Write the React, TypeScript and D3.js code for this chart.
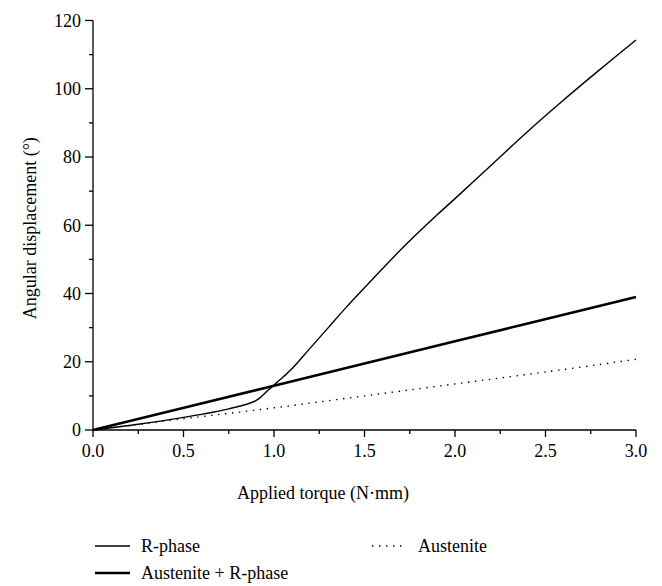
import React from "react";
import * as d3 from "d3";

// torque (N·mm) and angular displacement (deg)
const rPhaseX = [0, 0.25, 0.5, 0.75, 0.9, 0.97, 1.05, 1.1, 1.2, 1.3, 1.4, 1.5, 1.6, 1.7, 1.8, 1.9, 2.0, 2.2, 2.4, 2.6, 2.8, 3.0];
const rPhaseY = [0, 1.7, 3.7, 6.2, 8.6, 11.8, 15.5, 18.0, 24.0, 30.0, 36.0, 41.7, 47.3, 52.8, 58.0, 63.0, 67.8, 77.6, 87.4, 96.7, 105.6, 114.3];

const mixX = [0, 1.0, 2.0, 3.0];
const mixY = [0, 13.0, 26.0, 39.0];

const austX = [0, 0.5, 1.0, 1.5, 2.0, 2.5, 3.0];
const austY = [0, 3.3, 6.5, 10.0, 13.5, 17.0, 20.7];

const xTicks = [0, 0.5, 1.0, 1.5, 2.0, 2.5, 3.0];
const xMinor = [0.25, 0.75, 1.25, 1.75, 2.25, 2.75];
const yTicks = [0, 20, 40, 60, 80, 100, 120];
const yMinor = [10, 30, 50, 70, 90, 110];

const W = 662, H = 586;
const txt = { fontFamily: "Liberation Serif, DejaVu Serif, Times New Roman, serif", fontSize: "18px" };

export default function App() {
  const x = d3.scaleLinear().domain([0, 3]).range([93, 636]);
  const y = d3.scaleLinear().domain([0, 120]).range([430, 20.5]);

  const line = d3.line<[number, number]>()
    .x(d => x(d[0]))
    .y(d => y(d[1]))
    .curve(d3.curveCatmullRom.alpha(0.5));

  const series = [
    { name: "R-phase", xs: rPhaseX, ys: rPhaseY, width: 1.4, dash: null },
    { name: "Austenite + R-phase", xs: mixX, ys: mixY, width: 2.6, dash: null },
    { name: "Austenite", xs: austX, ys: austY, width: 1.4, dash: "1.4 5.6" },
  ];

  const legend = [
    { s: series[0], lx: 95, ly: 546 },
    { s: series[1], lx: 95, ly: 573 },
    { s: series[2], lx: 372, ly: 546 },
  ];

  return (
    <svg width={W} height={H} style={{ position: "absolute", left: 0, top: 0, background: "#fff" }}>
      {/* axes */}
      <line x1={x(0)} x2={x(3)} y1={y(0)} y2={y(0)} stroke="#000" strokeWidth={1.3} />
      <line x1={x(0)} x2={x(0)} y1={y(0)} y2={y(120)} stroke="#000" strokeWidth={1.3} />
      {xTicks.map(t => (
        <g key={"xt" + t}>
          <line x1={x(t)} x2={x(t)} y1={y(0)} y2={y(0) + 7} stroke="#000" strokeWidth={1.3} />
          <text x={x(t)} y={y(0) + 27} textAnchor="middle" style={txt}>
            {t.toFixed(1)}
          </text>
        </g>
      ))}
      {xMinor.map(t => (
        <line key={"xm" + t} x1={x(t)} x2={x(t)} y1={y(0)} y2={y(0) + 4} stroke="#000" strokeWidth={1.3} />
      ))}
      {yTicks.map(t => (
        <g key={"yt" + t}>
          <line x1={x(0) - 8} x2={x(0)} y1={y(t)} y2={y(t)} stroke="#000" strokeWidth={1.3} />
          <text x={x(0) - 12} y={y(t)} dy="0.35em" textAnchor="end" style={txt}>
            {t}
          </text>
        </g>
      ))}
      {yMinor.map(t => (
        <line key={"ym" + t} x1={x(0) - 4} x2={x(0)} y1={y(t)} y2={y(t)} stroke="#000" strokeWidth={1.3} />
      ))}

      {/* axis titles */}
      <text x={323} y={499} textAnchor="middle" style={txt}>
        Applied torque (N·mm)
      </text>
      <text transform={`translate(36,${(y(0) + y(120)) / 2 + 3}) rotate(-90)`} textAnchor="middle" style={txt}>
        Angular displacement (°)
      </text>

      {/* curves */}
      {series.map(s => (
        <path key={s.name}
          d={line(s.xs.map((v, i) => [v, s.ys[i]] as [number, number])) || ""}
          fill="none" stroke="#000" strokeWidth={s.width}
          strokeDasharray={s.dash || undefined} />
      ))}

      {/* legend */}
      {legend.map(({ s, lx, ly }) => (
        <g key={"lg" + s.name}>
          <line x1={lx} x2={lx + 35} y1={ly} y2={ly} stroke="#000" strokeWidth={s.width}
            strokeDasharray={s.dash || undefined} />
          <text x={lx + 46} y={ly} dy="0.32em" style={txt}>
            {s.name}
          </text>
        </g>
      ))}
    </svg>
  );
}
